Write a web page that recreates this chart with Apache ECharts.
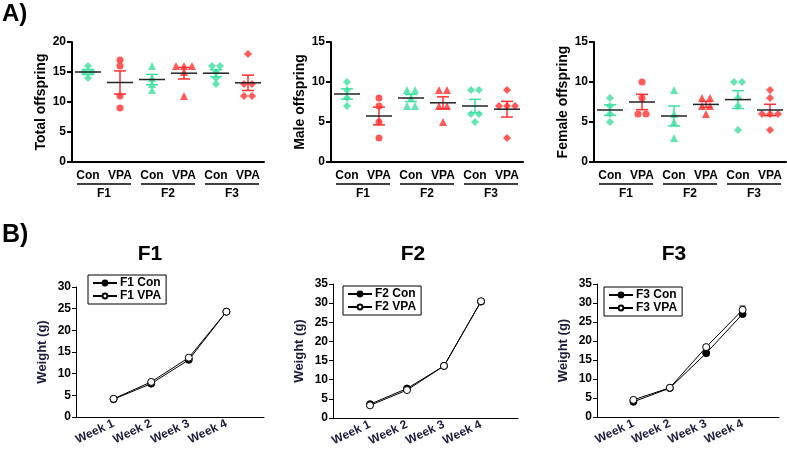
<!DOCTYPE html>
<html><head><meta charset="utf-8">
<script src="https://cdn.jsdelivr.net/npm/echarts@6/dist/echarts.min.js"></script>
<style>html,body{margin:0;padding:0;background:#fff}#c{width:787px;height:450px}</style>
</head><body><div id="c"></div>
<script>
// ---------- DATA ----------
const cats = ['Con','VPA','Con','VPA','Con','VPA'];
const gens = ['F1','F2','F3'];
// Panel A: per generation, Con and VPA individual values
const totalCon  = [[16,15,15,14],[16,14,13,12],[16,16,15,14,13]];
const totalVPA  = [[17,16,11,9],[16,16,16,15,11],[18,13,13,11,11]];
const maleCon   = [[10,9,8,7],[9,9,8,7,7],[9,9,6,6,5]];
const maleVPA   = [[8,7,5,3],[9,9,7,7,5],[9,7,7,7,3]];
const femaleCon = [[8,7,6,5],[9,6,5,3],[10,10,8,7,4]];
const femaleVPA = [[10,8,6,6],[8,8,7,7,6],[9,8,6,6,6,4]];
const yTitlesA = ['Total offspring','Male offspring','Female offspring'];
const yMaxA = [20,15,15];
// Panel B: weights
const weeks = ['Week 1','Week 2','Week 3','Week 4'];
const f1Con = [4.1,7.7,13.2,24.3], f1VPA = [4.2,8.1,13.7,24.3];
const f2Con = [3.6,7.7,13.6,30.4], f2VPA = [3.3,7.3,13.6,30.5];
const f3Con = [4.0,7.6,16.8,27.1], f3VPA = [4.5,7.7,18.4,28.2];
const f1ConErr = [0.2,0.3,0.3,0.4], f1VPAErr = [0.2,0.3,0.4,0.4];
const f2ConErr = [0.2,0.3,0.3,0.5], f2VPAErr = [0.2,0.3,0.3,0.5];
const f3ConErr = [0.2,0.2,0.5,0.5], f3VPAErr = [0.3,0.2,0.5,1.0];
const yMaxB = [30,35,35];

// ---------- STYLE ----------
const GREEN = '#3de0a0', RED = '#ff2f2f';
const FONT = 'Arial, "Liberation Sans", sans-serif';
const shapes = ['diamond','circle','triangle','triangle','diamond','diamond'];

function jitter(vals){
  const cnt={}, seen={};
  vals.forEach(v=>cnt[v]=(cnt[v]||0)+1);
  return vals.map(v=>{const k=seen[v]||0; seen[v]=k+1; return (k-(cnt[v]-1)/2)*8;});
}
function stats(vals){
  const n=vals.length, m=vals.reduce((a,b)=>a+b,0)/n;
  const sd=Math.sqrt(vals.reduce((a,b)=>a+(b-m)*(b-m),0)/(n-1));
  return [m, sd/Math.sqrt(n)];
}

const grids=[], xAxes=[], yAxes=[], series=[], legends=[];
const topLefts=[72,331,594];
const panelsA=[[totalCon,totalVPA],[maleCon,maleVPA],[femaleCon,femaleVPA]];

panelsA.forEach((p,i)=>{
  const gi=grids.length;
  grids.push({left:topLefts[i], top:42, width:192, height:120});
  const xi=xAxes.length;
  xAxes.push({type:'category', gridIndex:gi, data:cats,
    axisLine:{lineStyle:{color:'#000',width:2}},
    axisTick:{alignWithLabel:true,length:5,lineStyle:{width:2,color:'#000'}},
    axisLabel:{color:'#000',fontWeight:'bold',fontSize:12,fontFamily:FONT,margin:8,interval:0}});
  xAxes.push({type:'category', gridIndex:gi, data:gens, position:'bottom', offset:20,
    axisLine:{show:false}, axisTick:{show:false},
    axisLabel:{color:'#000',fontWeight:'bold',fontSize:12,fontFamily:FONT,margin:6}});
  const yi=yAxes.length;
  yAxes.push({type:'value', gridIndex:gi, min:0, max:yMaxA[i], interval:5,
    name:yTitlesA[i], nameLocation:'middle', nameGap:24,
    nameTextStyle:{color:'#000',fontWeight:'bold',fontSize:14,fontFamily:FONT},
    axisLine:{show:true,lineStyle:{color:'#000',width:2}},
    axisTick:{show:true,length:5,lineStyle:{width:2,color:'#000'}},
    splitLine:{show:false},
    axisLabel:{color:'#000',fontWeight:'bold',fontSize:12,fontFamily:FONT,margin:6}});
  const statData=[];
  for(let g=0; g<3; g++){
    [0,1].forEach(t=>{
      const vals=p[t][g], cat=g*2+t, offs=jitter(vals);
      const color = t===0?GREEN:RED;
      series.push({type:'scatter', xAxisIndex:xi, yAxisIndex:yi,
        symbol:shapes[cat], symbolSize:shapes[cat]==='circle'?7:8,
        itemStyle:{color:color}, z:2,
        data:vals.map((v,j)=>({value:[cat,v], symbolOffset:[offs[j],0]}))});
      const s=stats(vals);
      statData.push([cat, s[0], s[1], t]);
    });
  }
  series.push({type:'custom', xAxisIndex:xi, yAxisIndex:yi, z:5, clip:false,
    data:statData,
    renderItem:(params,api)=>{
      const c=api.coord([api.value(0),api.value(1)]);
      const tp=api.coord([api.value(0),api.value(1)+api.value(2)]);
      const bt=api.coord([api.value(0),api.value(1)-api.value(2)]);
      const col=api.value(3)===0?GREEN:RED;
      const st={stroke:col,lineWidth:1.5};
      return {type:'group',children:[
        {type:'line',shape:{x1:c[0],y1:tp[1],x2:c[0],y2:bt[1]},style:st},
        {type:'line',shape:{x1:c[0]-6,y1:tp[1],x2:c[0]+6,y2:tp[1]},style:st},
        {type:'line',shape:{x1:c[0]-6,y1:bt[1],x2:c[0]+6,y2:bt[1]},style:st},
        {type:'line',shape:{x1:c[0]-13,y1:c[1],x2:c[0]+13,y2:c[1]},style:{stroke:'#222',lineWidth:1.5}}
      ]};
    }});
  // group underlines
  series.push({type:'custom', xAxisIndex:xi, yAxisIndex:yi, clip:false, silent:true,
    data:gens.map((g,k)=>[k*2,k*2+1]),
    renderItem:(params,api)=>{
      const a=api.coord([api.value(0),0]), b=api.coord([api.value(1),0]);
      return {type:'line',shape:{x1:a[0]-11,y1:a[1]+22,x2:b[0]+11,y2:a[1]+22},
        style:{stroke:'#000',lineWidth:1.5}};
    }});
});

// ---------- Panel B ----------
const bGrids=[{left:76,top:287,width:188,height:130},{left:333,top:284,width:185,height:134},{left:597,top:284,width:182,height:133}];
const bData=[[f1Con,f1VPA,f1ConErr,f1VPAErr],[f2Con,f2VPA,f2ConErr,f2VPAErr],[f3Con,f3VPA,f3ConErr,f3VPAErr]];
const legendPos=[{left:88,top:275},{left:343,top:286},{left:604,top:287}];
const xCats=[''].concat(weeks,['']);
bData.forEach((d,i)=>{
  const gi=grids.length;
  grids.push(bGrids[i]);
  const xi=xAxes.length;
  xAxes.push({type:'category', gridIndex:gi, data:xCats, boundaryGap:false,
    axisLine:{lineStyle:{color:'#000',width:1}}, axisTick:{show:false},
    axisLabel:{color:'#1c1c3c',fontWeight:'bold',fontSize:12,fontFamily:FONT,rotate:25,interval:0,margin:6}});
  const yi=yAxes.length;
  yAxes.push({type:'value', gridIndex:gi, min:0, max:yMaxB[i], interval:5,
    name:'Weight (g)', nameLocation:'middle', nameGap:27,
    nameTextStyle:{color:'#1c1c3c',fontWeight:'bold',fontSize:13,fontFamily:FONT},
    axisLine:{show:true,lineStyle:{color:'#000',width:1}},
    axisTick:{show:true,length:4,lineStyle:{color:'#000'}},
    splitLine:{show:false},
    axisLabel:{color:'#000',fontWeight:'bold',fontSize:12,fontFamily:FONT,margin:5}});
  const g=gens[i];
  const names=[g+' Con', g+' VPA'];
  [0,1].forEach(t=>{
    series.push({type:'line', name:names[t], xAxisIndex:xi, yAxisIndex:yi,
      data:[null].concat(d[t],[null]), symbol:'circle', symbolSize:7, showSymbol:true,
      lineStyle:{color:'#000',width:1}, z:t===0?3:4,
      itemStyle:{color:t===0?'#000':'#fff', borderColor:'#000', borderWidth:1}});
    series.push({type:'custom', xAxisIndex:xi, yAxisIndex:yi, z:2, silent:true,
      data:d[t].map((v,k)=>[k+1, v, d[t+2][k]]),
      renderItem:(params,api)=>{
        const tp=api.coord([api.value(0),api.value(1)+api.value(2)]);
        const bt=api.coord([api.value(0),api.value(1)-api.value(2)]);
        const st={stroke:'#000',lineWidth:1};
        return {type:'group',children:[
          {type:'line',shape:{x1:tp[0],y1:tp[1],x2:tp[0],y2:bt[1]},style:st},
          {type:'line',shape:{x1:tp[0]-3,y1:tp[1],x2:tp[0]+3,y2:tp[1]},style:st},
          {type:'line',shape:{x1:tp[0]-3,y1:bt[1],x2:tp[0]+3,y2:bt[1]},style:st}]};
      }});
  });
  legends.push(Object.assign({data:names, orient:'vertical', borderColor:'#000', borderWidth:1,
    padding:[2,5,2,4], itemGap:1, itemWidth:24, itemHeight:6, selectedMode:false,
    textStyle:{color:'#000',fontWeight:'bold',fontSize:12,fontFamily:FONT,padding:[0,0,0,-2]}}, legendPos[i]));
});

const chart=echarts.init(document.getElementById('c'),null,{renderer:'canvas'});
chart.setOption({
  animation:false, backgroundColor:'#fff',
  grid:grids, xAxis:xAxes, yAxis:yAxes, series:series, legend:legends,
  graphic:[
    {type:'text',left:2,top:2,style:{text:'A)',font:'bold 24px '+FONT,fill:'#000'}},
    {type:'text',left:2,top:223,style:{text:'B)',font:'bold 25px '+FONT,fill:'#000'}},
    {type:'text',x:150,y:254,style:{text:'F1',font:'bold 21px '+FONT,fill:'#000',align:'center',verticalAlign:'middle'}},
    {type:'text',x:413,y:254,style:{text:'F2',font:'bold 21px '+FONT,fill:'#000',align:'center',verticalAlign:'middle'}},
    {type:'text',x:674,y:254,style:{text:'F3',font:'bold 21px '+FONT,fill:'#000',align:'center',verticalAlign:'middle'}}
  ]
});
</script></body></html>
